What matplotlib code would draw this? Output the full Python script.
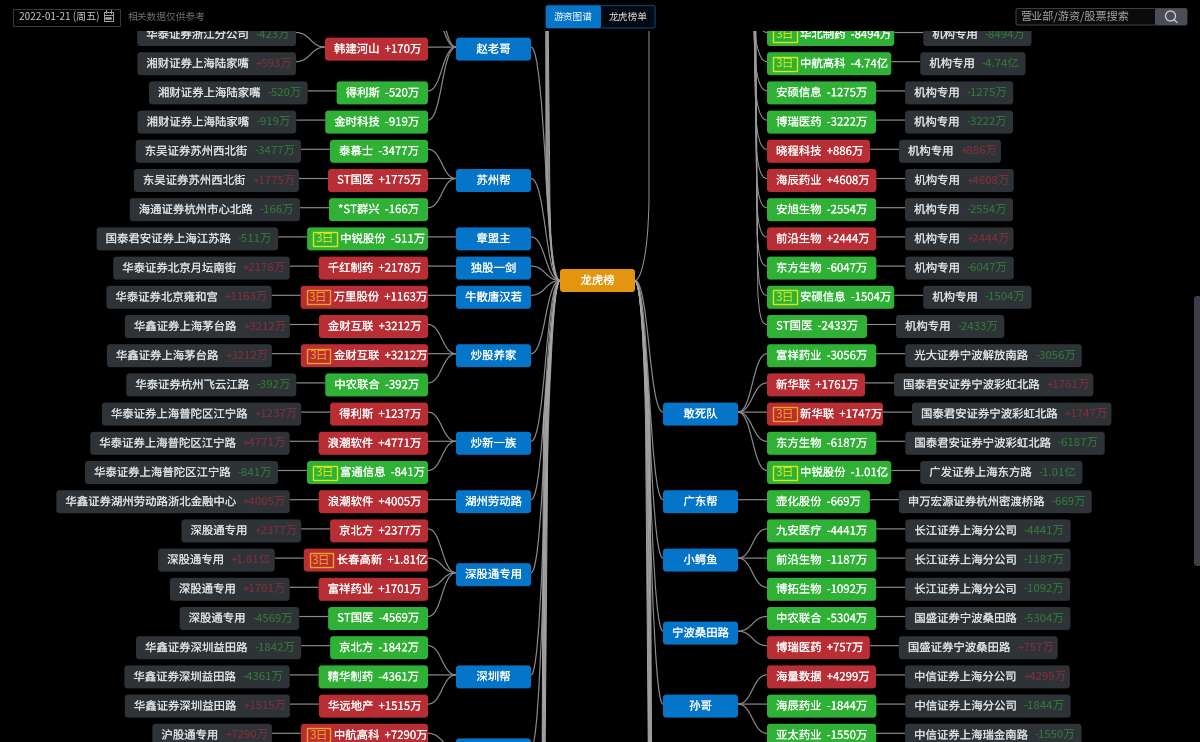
import matplotlib
matplotlib.use("Agg")
import matplotlib.pyplot as plt
import matplotlib.patheffects as pe
from matplotlib.patches import FancyBboxPatch, PathPatch, Rectangle, Circle
from matplotlib.path import Path

plt.rcParams['font.family'] = ['Noto Sans CJK SC', 'DejaVu Sans']

# ---------- data ----------
left_brokers = ['华泰证券浙江分公司', '湘财证券上海陆家嘴', '湘财证券上海陆家嘴', '湘财证券上海陆家嘴',
                '东吴证券苏州西北街', '东吴证券苏州西北街', '海通证券杭州市心北路', '国泰君安证券上海江苏路',
                '华泰证券北京月坛南街', '华泰证券北京雍和宫', '华鑫证券上海茅台路', '华鑫证券上海茅台路',
                '华泰证券杭州飞云江路', '华泰证券上海普陀区江宁路', '华泰证券上海普陀区江宁路', '华泰证券上海普陀区江宁路',
                '华鑫证券湖州劳动路浙北金融中心', '深股通专用', '深股通专用', '深股通专用', '深股通专用',
                '华鑫证券深圳益田路', '华鑫证券深圳益田路', '华鑫证券深圳益田路', '沪股通专用']
left_broker_values = ['-423万', '+593万', '-520万', '-919万', '-3477万', '+1775万', '-166万', '-511万',
                      '+2178万', '+1163万', '+3212万', '+3212万', '-392万', '+1237万', '+4771万', '-841万',
                      '+4005万', '+2377万', '+1.81亿', '+1701万', '-4569万', '-1842万', '-4361万', '+1515万',
                      '+7290万']
left_stocks = ['韩建河山', '得利斯', '金时科技', '泰慕士', 'ST国医', '*ST群兴', '中锐股份', '千红制药', '万里股份',
               '金财互联', '金财互联', '中农联合', '得利斯', '浪潮软件', '富通信息', '浪潮软件', '京北方', '长春高新',
               '富祥药业', 'ST国医', '京北方', '精华制药', '华远地产', '中航高科']
left_stock_values = ['+170万', '-520万', '-919万', '-3477万', '+1775万', '-166万', '-511万', '+2178万', '+1163万',
                     '+3212万', '+3212万', '-392万', '+1237万', '+4771万', '-841万', '+4005万', '+2377万', '+1.81亿',
                     '+1701万', '-4569万', '-1842万', '-4361万', '+1515万', '+7290万']
left_stock_rows = [0.5, 2, 3, 4, 5, 6, 7, 8, 9, 10, 11, 12, 13, 14, 15, 16, 17, 18, 19, 20, 21, 22, 23, 24]
left_three_day = [6, 8, 10, 14, 17, 23]
left_hidden_rows = [-2, -1, 25]
left_groups = ['赵老哥', '苏州帮', '章盟主', '独股一剑', '牛散唐汉若', '炒股养家', '炒新一族', '湖州劳动路',
               '深股通专用', '深圳帮', '']
left_group_spans = [(-2, 3), (4, 6), (7, 7), (8, 8), (9, 9), (10, 12), (13, 15), (16, 16), (17, 20), (21, 23), (24, 25)]

right_stocks = ['华北制药', '中航高科', '安硕信息', '博瑞医药', '晓程科技', '海辰药业', '安旭生物', '前沿生物', '东方生物',
                '安硕信息', 'ST国医', '富祥药业', '新华联', '新华联', '东方生物', '中锐股份', '壶化股份', '九安医疗',
                '前沿生物', '博拓生物', '中农联合', '博瑞医药', '海量数据', '海辰药业', '亚太药业']
right_values = ['-8494万', '-4.74亿', '-1275万', '-3222万', '+886万', '+4608万', '-2554万', '+2444万', '-6047万',
                '-1504万', '-2433万', '-3056万', '+1761万', '+1747万', '-6187万', '-1.01亿', '-669万', '-4441万',
                '-1187万', '-1092万', '-5304万', '+757万', '+4299万', '-1844万', '-1550万']
right_brokers = ['机构专用'] * 11 + ['光大证券宁波解放南路', '国泰君安证券宁波彩虹北路', '国泰君安证券宁波彩虹北路',
                 '国泰君安证券宁波彩虹北路', '广发证券上海东方路', '申万宏源证券杭州密渡桥路', '长江证券上海分公司',
                 '长江证券上海分公司', '长江证券上海分公司', '国盛证券宁波桑田路', '国盛证券宁波桑田路',
                 '中信证券上海分公司', '中信证券上海分公司', '中信证券上海瑞金南路']
right_three_day = [0, 1, 9, 13, 15]
right_groups = ['敢死队', '广东帮', '小鳄鱼', '宁波桑田路', '孙哥']
right_group_spans = [(11, 15), (16, 16), (17, 19), (20, 21), (22, 24)]
right_offscreen_rows = list(range(11))

center_name = '龙虎榜'
date_text = '2022-01-21 (周五)'
note_text = '相关数据仅供参考'
tabs = ['游资图谱', '龙虎榜单']
search_hint = '营业部/游资/股票搜索'

# ---------- style ----------
BG = '#000000'; RED = '#b92d34'; GREEN = '#2fb136'; BLUE = '#0475c8'; ORANGE = '#e3950f'
BROKER = '#2e3338'; DIM_RED = '#8a2f38'; DIM_GREEN = '#2f8037'; LINE = '#8c8c8c'
FS = 8.2
ROW0, ROWH, BOXH = 34.5, 29.2, 23

fig = plt.figure(figsize=(12, 7.42), dpi=100, facecolor=BG)
ax = fig.add_axes([0, 0, 1, 1])
ax.set_xlim(0, 1200); ax.set_ylim(742, 0); ax.axis('off')
rend = fig.canvas.get_renderer()


def ry(r):
    return ROW0 + ROWH * r


def width(s, fs=FS):
    # the original's plus sign takes no more room than its minus sign
    t = ax.text(0, 0, s.replace('+', '-'), fontsize=fs)
    w = t.get_window_extent(rend).width
    t.remove()
    return w


def box(x0, x1, y, color, z=3, h=BOXH, r=3):
    ax.add_patch(FancyBboxPatch((x0, y - h / 2), x1 - x0, h, boxstyle=f'round,pad=0,rounding_size={r}',
                                fc=color, ec='none', zorder=z))


def label(x, y, s, color='white', ha='left', fs=FS, z=4, heavy=0.1):
    t = ax.text(x, y, s, color=color, ha=ha, va='center', fontsize=fs, zorder=z)
    if heavy:
        t.set_path_effects([pe.withStroke(linewidth=heavy, foreground=color)])


def curve(x0, y0, x1, y1, color=LINE, lw=0.85):
    m = (x0 + x1) / 2
    p = Path([(x0, y0), (m, y0), (m, y1), (x1, y1)], [Path.MOVETO, Path.CURVE4, Path.CURVE4, Path.CURVE4])
    ax.add_patch(PathPatch(p, fc='none', ec=color, lw=lw, zorder=2))


def trunk(pts, color=LINE, lw=0.7):
    # start, three bezier points, then a straight run
    p = Path(pts, [Path.MOVETO, Path.CURVE4, Path.CURVE4, Path.CURVE4, Path.LINETO])
    ax.add_patch(PathPatch(p, fc='none', ec=color, lw=lw, zorder=2))


def val_color(v):
    return DIM_RED if v.startswith('+') else DIM_GREEN


def stock_width(name, val, three):
    w = width(name + '  ' + val) + 18
    return w + 18 if three else w


def draw_stock(x0, x1, y, name, val, three):
    col = RED if val.startswith('+') else GREEN
    box(x0, x1, y, col)
    tx = x0 + 9
    if three:
        acc = '#f0a41c' if col == RED else '#d6e81c'
        ax.add_patch(Rectangle((x0 + 6, y - 7), 23.5, 14, fc='none', ec=acc, lw=1.0, zorder=4))
        ax.text(x0 + 17.7, y, '3日', color=acc, ha='center', va='center', fontsize=FS + 0.5, zorder=4)
        tx = x0 + 33
    label(tx, y, name + '  ' + val)


def broker_width(name, val):
    return 9 + width(name) + 7 + width(val) + 6


def draw_broker(x0, x1, y, name, val):
    box(x0, x1, y, BROKER)
    label(x0 + 9, y, name, '#dfe2e3')
    label(x0 + 9 + width(name) + 7, y, val, val_color(val), heavy=0)


# ---------- left tree ----------
L_STOCK_R, L_G0, L_G1 = 428, 456, 531
C0, C1, CY = 560, 635, 280.5
R_G0, R_G1, R_STOCK_L = 663, 738, 767

owners = [0, 0] + list(range(1, len(left_stocks)))
stock_left = []
for i, (n, v, r) in enumerate(zip(left_stocks, left_stock_values, left_stock_rows)):
    three = i in left_three_day
    x0 = L_STOCK_R - stock_width(n, v, three)
    stock_left.append(x0)
    draw_stock(x0, L_STOCK_R, ry(r), n, v, three)

for row, (n, v, o) in enumerate(zip(left_brokers, left_broker_values, owners)):
    y = ry(row)
    x1 = stock_left[o] - 29
    draw_broker(x1 - broker_width(n, v), x1, y, n, v)
    curve(x1, y - 2, stock_left[o], ry(left_stock_rows[o]) - 2)

for name, (a, b) in zip(left_groups, left_group_spans):
    gr = (a + b) / 2
    y = ry(gr)
    box(L_G0, L_G1, y, BLUE)
    if name:
        label((L_G0 + L_G1) / 2, y, name, ha='center')
    for r in list(left_stock_rows) + left_hidden_rows:
        if a <= r <= b:
            curve(L_STOCK_R, ry(r) - 2, L_G0, y - 2)
    curve(L_G1, y - 2, C0, CY)

# ---------- right tree ----------
for i, (n, v, b, r) in enumerate(zip(right_stocks, right_values, right_brokers, range(len(right_stocks)))):
    three = i in right_three_day
    y = ry(r)
    x1 = R_STOCK_L + stock_width(n, v, three)
    draw_stock(R_STOCK_L, x1, y, n, v, three)
    bx0 = x1 + 29
    draw_broker(bx0, bx0 + broker_width(b, v), y, b, v)
    curve(x1, y - 2, bx0, y - 2)

for name, (a, b) in zip(right_groups, right_group_spans):
    y = ry((a + b) / 2)
    box(R_G0, R_G1, y, BLUE)
    label((R_G0 + R_G1) / 2, y, name, ha='center')
    for r in range(a, b + 1):
        curve(R_G1, y - 2, R_STOCK_L, ry(r) - 2)
    curve(R_G0, y - 2, C1, CY)

# edges to the group that sits above the visible area
for i, r in enumerate(right_offscreen_rows):
    y = ry(r) - 2
    xt = 754.5 + 0.33 * i
    trunk([(R_STOCK_L, y), (760, y), (xt + 1.5, y - 14), (xt, y - 32), (752.2 + 0.35 * i, 0)], color='#9a9a9a')

# fans from the centre to groups outside the visible area
for k in range(6):
    trunk([(C0, CY), (553, CY), (550, 250), (546 + 0.75 * k, 180), (545.7 + 0.45 * k, 0)], color='#a0a0a0')
for k in range(7):
    trunk([(C0, CY), (555, 282), (552, 320), (543.5 + 0.75 * k, 420), (542.2 + 0.5 * k, 742)], color='#a5a5a5')
for k in range(7):
    trunk([(C1, CY), (638, 282), (643, 300), (645.5 + 0.75 * k, 420), (648.2 + 0.55 * k, 742)], color='#a5a5a5')
trunk([(C1, CY), (640, CY), (648, 260), (649, 200), (649, 0)], color='#9a9a9a')

box(C0, C1, CY, ORANGE)
label((C0 + C1) / 2, CY, center_name, ha='center')

# ---------- header ----------
ax.add_patch(Rectangle((0, 0), 1200, 31, fc=BG, ec='none', zorder=5))
HZ = 7
HFS = 7.0
ax.add_patch(Rectangle((12.5, 8.5), 107, 17, fc=BG, ec='#33383d', lw=0.8, zorder=6))
ax.text(19, 17, date_text, color='#c9c9c9', va='center', fontsize=7.2, zorder=HZ)
ax.add_patch(Rectangle((103.5, 12), 9.5, 9, fc='none', ec='#a8a8a8', lw=0.7, zorder=HZ))
ax.plot([103.5, 113], [14.8, 14.8], color='#a8a8a8', lw=0.7, zorder=HZ)
ax.plot([106, 108.2, 110.4], [17.8, 17.8, 17.8], ls='none', marker='s', ms=0.9, color='#a8a8a8', zorder=HZ)
ax.plot([106, 106], [10, 12.5], color='#a8a8a8', lw=0.7, zorder=HZ)
ax.plot([110.5, 110.5], [10, 12.5], color='#a8a8a8', lw=0.7, zorder=HZ)
ax.text(128, 17, note_text, color='#6f6f6f', va='center', fontsize=HFS, zorder=HZ)

ax.add_patch(FancyBboxPatch((546, 5.5), 109, 22.5, boxstyle='round,pad=0,rounding_size=2', fc='#000810', ec='#0a3a5e',
                            lw=1.0, zorder=6))
ax.add_patch(FancyBboxPatch((546, 5.5), 55, 22.5, boxstyle='round,pad=0,rounding_size=2', fc=BLUE, ec='none', zorder=HZ))
ax.text(573, 17, tabs[0], color='white', ha='center', va='center', fontsize=HFS, zorder=HZ + 1)
ax.text(628, 17, tabs[1], color='#dddddd', ha='center', va='center', fontsize=HFS, zorder=HZ + 1)

ax.add_patch(FancyBboxPatch((1016, 8.5), 171, 16.5, boxstyle='round,pad=0,rounding_size=2', fc='#0b0b0d', ec='#3a3d45',
                            lw=0.8, zorder=6))
ax.add_patch(FancyBboxPatch((1155, 8.5), 32, 16.5, boxstyle='round,pad=0,rounding_size=2', fc='#4b4e59', ec='none',
                            zorder=HZ))
ax.text(1020, 17, search_hint, color='#a5a5a5', va='center', fontsize=8, zorder=HZ)
ax.add_patch(Circle((1170.5, 16), 5, fc='none', ec='#d0d0d0', lw=0.9, zorder=HZ + 1))
ax.plot([1174, 1177], [19.5, 22.5], color='#d0d0d0', lw=0.9, zorder=HZ + 1)

# scrollbar
ax.add_patch(FancyBboxPatch((1194, 296), 8, 270, boxstyle='round,pad=0,rounding_size=3', fc='#3b3e48', ec='none', zorder=HZ))

fig.savefig('out.png', dpi=100, facecolor=BG)
